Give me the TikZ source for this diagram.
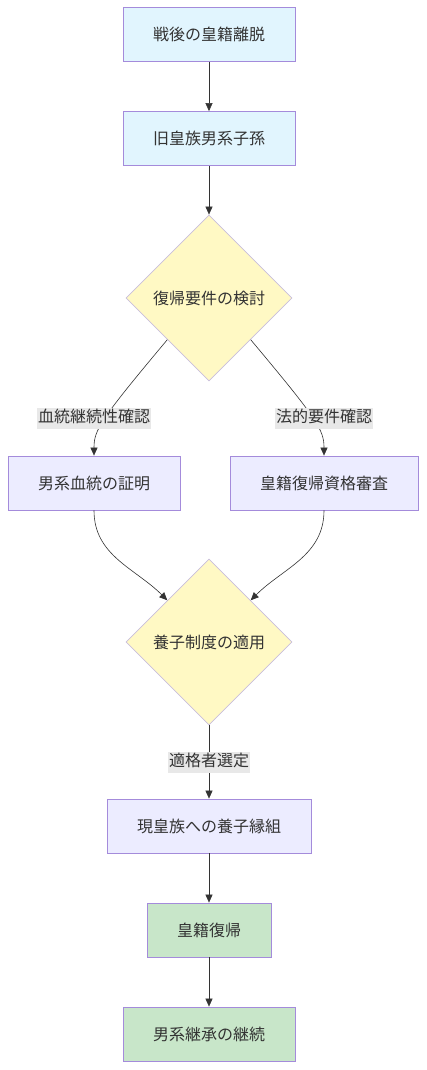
\documentclass[tikz,border=0pt]{standalone}
\usepackage{fontspec}
\setmainfont{Noto Sans CJK JP}
\usetikzlibrary{arrows.meta}
\usetikzlibrary{shapes.geometric}
\definecolor{myblue}{HTML}{E1F5FE}
\definecolor{myyellow}{HTML}{FFF9C4}
\definecolor{mypurple}{HTML}{ECECFF}
\definecolor{mygreen}{HTML}{C8E6C9}
\definecolor{myedge}{HTML}{A48BDB}
\definecolor{mydiaedge}{HTML}{C9BEDC}
\definecolor{mytext}{HTML}{333333}
\definecolor{mylabel}{HTML}{E8E8E8}

\begin{document}
\begin{tikzpicture}[x=1pt,y=-1pt,
    every node/.style={font=\fontsize{16}{19}\selectfont, text=mytext},
    box/.style={draw=myedge, line width=0.8pt, minimum height=54pt, inner sep=0pt},
    decide/.style={diamond, draw=mydiaedge, line width=0.8pt, fill=myyellow,
      shape aspect=1, minimum width=166pt, minimum height=166pt, inner sep=0pt},
    lbl/.style={fill=mylabel, inner xsep=1pt, inner ysep=3pt, text height=12pt, text depth=3pt},
    link/.style={draw=mytext, line width=0.6pt},
    flow/.style={link, -{Triangle[length=8pt,width=7pt]}}
  ]
  \useasboundingbox (0,0) rectangle (426,1070);

  %Top boxes
  \node[box, fill=myblue, minimum width=172pt] (exit) at (209,34.5) {戦後の皇籍離脱};
  \node[box, fill=myblue, minimum width=172pt] (desc) at (209,138.5) {旧皇族男系子孫};
  \node[decide] (chk) at (209,298) {復帰要件の検討};

  %Two branches
  \node[box, fill=mypurple, minimum width=172pt] (prf) at (94,483) {男系血統の証明};
  \node[box, fill=mypurple, minimum width=188pt] (rev) at (324,483) {皇籍復帰資格審査};
  \node[decide] (adp) at (209,642) {養子制度の適用};

  %Bottom boxes
  \node[box, fill=mypurple, minimum width=204pt] (fam) at (209,826) {現皇族への養子縁組};
  \node[box, fill=mygreen, minimum width=124pt] (back) at (209,930) {皇籍復帰};
  \node[box, fill=mygreen, minimum width=172pt] (cont) at (209,1034) {男系継承の継続};

  %Connectors
  \draw[flow] (exit) -- (desc);
  \draw[flow] (desc) -- (chk);
  \draw[flow] (chk.south west) .. controls (100,420) and (94,430) .. (prf.north);
  \draw[flow] (chk.south east) .. controls (318,420) and (324,430) .. (rev.north);
  \draw[flow] (prf.south) to[out=-90,in=135] (adp.north west);
  \draw[flow] (rev.south) to[out=-90,in=45] (adp.north east);
  \draw[flow] (adp) -- (fam);
  \draw[flow] (fam) -- (back);
  \draw[flow] (back) -- (cont);

  %Edge labels (on top of the lines)
  \node[lbl] (l1) at (94,418) {血統継続性確認};
  \node[lbl] (l2) at (324,418) {法的要件確認};
  \node[lbl] (l3) at (209,762) {適格者選定};
\end{tikzpicture}
\end{document}
